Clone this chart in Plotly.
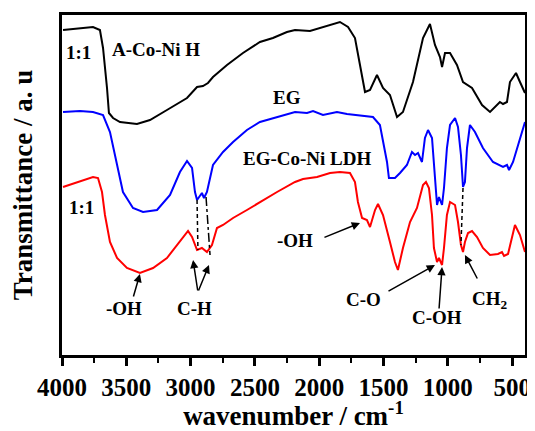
import plotly.graph_objects as go

# ---- data (wavenumber in cm^-1, transmittance in arbitrary units) ----
wn_black = [3992, 3837, 3759, 3705, 3681, 3650, 3635, 3603, 3549, 3417, 3316, 3184, 3028, 2950, 2904,
            2865, 2826, 2717, 2593, 2461, 2360, 2251, 2188, 2072, 1971, 1839, 1776, 1722, 1683, 1644,
            1605, 1551, 1504, 1450, 1395, 1349, 1271, 1193, 1139, 1100, 1061, 1045, 1022, 983, 929,
            882, 812, 734, 672, 595, 571, 540, 517, 470, 439, 400]
t_black = [325, 327, 328, 325, 307, 267, 242, 237, 233, 231, 235, 245, 257, 268, 269,
           272, 278, 290, 302, 313, 317, 323, 325, 324, 328, 333, 328, 317, 290, 263,
           265, 280, 267, 260, 238, 243, 273, 317, 331, 310, 298, 288, 302, 302, 290,
           273, 267, 250, 243, 253, 251, 253, 273, 282, 273, 262]

wn_blue = [3992, 3860, 3759, 3681, 3627, 3572, 3526, 3448, 3370, 3261, 3160, 3083, 3028, 2989, 2966,
           2950, 2912, 2896, 2873, 2826, 2748, 2670, 2562, 2461, 2328, 2188, 2095, 2048, 1971, 1862,
           1784, 1706, 1582, 1528, 1504, 1473, 1458, 1411, 1372, 1318, 1279, 1255, 1232, 1201, 1178,
           1154, 1123, 1108, 1084, 1069, 1045, 1030, 1007, 983, 944, 921, 898, 882, 867, 851,
           828, 789, 727, 649, 571, 540, 524, 493, 439, 400]
t_blue = [243, 244, 243, 240, 223, 190, 163, 147, 143, 145, 160, 183, 194, 187, 163,
          155, 162, 157, 163, 190, 203, 213, 225, 233, 238, 243, 242, 244, 240, 243,
          241, 240, 238, 230, 213, 193, 177, 177, 182, 190, 203, 200, 202, 193, 217,
          225, 217, 187, 150, 158, 150, 167, 207, 230, 237, 228, 200, 168, 173, 207,
          230, 223, 207, 193, 188, 190, 185, 193, 217, 233]

wn_red = [3992, 3883, 3759, 3720, 3689, 3666, 3627, 3572, 3495, 3394, 3292, 3184, 3083, 3020, 2989,
          2950, 2912, 2873, 2834, 2795, 2748, 2670, 2562, 2461, 2328, 2188, 2126, 2017, 1916, 1839,
          1761, 1722, 1699, 1667, 1629, 1605, 1566, 1543, 1504, 1450, 1411, 1388, 1349, 1294, 1240,
          1193, 1170, 1147, 1123, 1108, 1084, 1069, 1045, 1030, 1007, 983, 944, 921, 898, 882,
          867, 843, 812, 773, 727, 672, 610, 579, 563, 532, 501, 478, 439, 400]
t_red = [168, 173, 178, 177, 163, 140, 113, 97, 87, 82, 87, 97, 113, 124, 118,
         105, 107, 103, 110, 127, 130, 137, 145, 153, 163, 173, 176, 178, 182, 183,
         182, 173, 153, 137, 135, 128, 145, 151, 140, 113, 93, 85, 107, 133, 147,
         170, 173, 167, 140, 107, 93, 97, 90, 107, 140, 153, 150, 133, 110, 103,
         113, 122, 124, 118, 107, 100, 101, 103, 99, 101, 117, 130, 120, 103]

x_ticks = [4000, 3500, 3000, 2500, 2000, 1500, 1000, 500]
x_minor = [3750, 3250, 2750, 2250, 1750, 1250, 750]

# guide lines (wavenumber pairs, transmittance pairs)
ch_left_wn, ch_left_t = [2950, 2943], [155, 105]
ch_right_wn, ch_right_t = [2880, 2849], [158, 100]
ch2_wn, ch2_t = [882, 898], [167, 110]

labels = [  # text, wavenumber, transmittance
    ("1:1", 3868, 303),
    ("A-Co-Ni H", 3269, 306),
    ("EG", 2251, 258),
    ("EG-Co-Ni LDH", 2095, 197),
    ("1:1", 3852, 148),
    ("-OH", 3518, 47),
    ("C-H", 2966, 47),
    ("-OH", 2188, 115),
    ("C-O", 1652, 56),
    ("C-OH", 1084, 38),
    ("CH<sub>2</sub>", 672, 55),
]

arrows = [  # tail wn, tail t, head wn, head t
    (3448, 57, 3394, 81),
    (2943, 63, 2981, 95),
    (2943, 63, 2857, 90),
    (1971, 117, 1683, 132),
    (1473, 63, 1100, 90),
    (1069, 45, 1045, 88),
    (765, 75, 867, 100),
]

FONT = "Liberation Serif"

fig = go.Figure()
fig.add_trace(go.Scatter(x=wn_black, y=t_black, mode="lines", line=dict(color="black", width=2)))
fig.add_trace(go.Scatter(x=wn_blue, y=t_blue, mode="lines", line=dict(color="#0000FF", width=2)))
fig.add_trace(go.Scatter(x=wn_red, y=t_red, mode="lines", line=dict(color="#FF0000", width=2)))
fig.add_trace(go.Scatter(x=ch_left_wn, y=ch_left_t, mode="lines", line=dict(color="black", width=1.5, dash="4px,3px")))
fig.add_trace(go.Scatter(x=ch_right_wn, y=ch_right_t, mode="lines", line=dict(color="black", width=1.5, dash="dashdot")))
fig.add_trace(go.Scatter(x=ch2_wn, y=ch2_t, mode="lines", line=dict(color="black", width=1.5, dash="4px,3px")))

for text, x, y in labels:
    fig.add_annotation(x=x, y=y, text=text, showarrow=False,
                       font=dict(family=FONT, size=19, color="black", weight="bold"))

for tx, ty, hx, hy in arrows:
    fig.add_annotation(x=hx, y=hy, ax=tx, ay=ty, axref="x", ayref="y", text="",
                       showarrow=True, arrowhead=2, arrowsize=1.1, arrowwidth=1.5, arrowcolor="black")

# the page body has an 8px margin, so the figure is 8px smaller than the window
fig.update_layout(
    template="none",
    width=527, height=423,
    margin=dict(l=54, r=10, t=7, b=76, autoexpand=False),
    paper_bgcolor="white", plot_bgcolor="white",
    showlegend=False,
    font=dict(family=FONT, color="black", weight="bold"),
    xaxis=dict(
        automargin=False,
        range=[4000, 400], autorange=False,
        tickvals=x_ticks, ticktext=[str(v) for v in x_ticks],
        ticks="outside", ticklen=8, tickwidth=2.5, tickcolor="black",
        minor=dict(tickvals=x_minor, ticks="outside",
                   ticklen=5, tickwidth=2, tickcolor="black"),
        showline=True, linewidth=3, linecolor="black", mirror=True,
        showgrid=False, zeroline=False,
        tickfont=dict(family=FONT, size=25, color="black", weight="bold"),
        title=dict(text="wavenumber / cm<sup>-1</sup>", standoff=4,
                   font=dict(family=FONT, size=27, color="black", weight="bold")),
    ),
    yaxis=dict(
        automargin=False,
        range=[0, 340], autorange=False,
        showticklabels=False, ticks="",
        showline=True, linewidth=3, linecolor="black", mirror=True,
        showgrid=False, zeroline=False,
        title=dict(text="Transmittance / a. u", standoff=20,
                   font=dict(family=FONT, size=27, color="black", weight="bold")),
    ),
)

fig.write_html("out.html")
